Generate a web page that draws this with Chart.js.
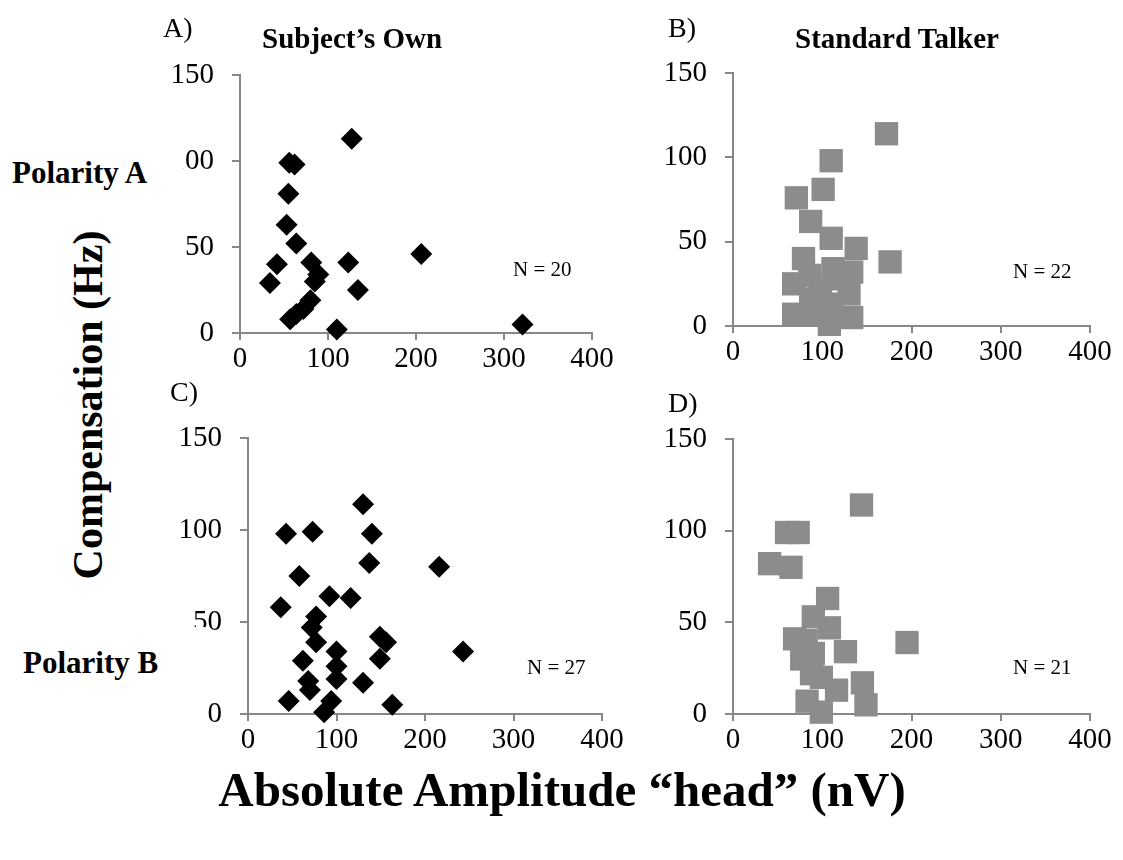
<!DOCTYPE html>
<html>
<head>
<meta charset="utf-8">
<script src="https://cdn.jsdelivr.net/npm/chart.js@4.4.0/dist/chart.umd.min.js"></script>
<style>
  html, body { margin: 0; padding: 0; background: #fff; }
  #page { position: relative; width: 1123px; height: 860px; overflow: hidden;
          font-family: "Liberation Serif", "Times New Roman", serif; color: #000; }
  #page canvas { position: absolute; z-index: 1; }
  .lbl { position: absolute; white-space: nowrap; line-height: 1; z-index: 2; }
  .b { font-weight: bold; }
  .box { background: #fff; }
</style>
</head>
<body>
<div id="page">
  <canvas id="chartA"></canvas>
  <canvas id="chartB"></canvas>
  <canvas id="chartC"></canvas>
  <canvas id="chartD"></canvas>

  <div class="lbl" style="left:163px; top:14px; font-size:28px;">A)</div>
  <div class="lbl b" style="left:262px; top:24px; font-size:29px;">Subject’s Own</div>
  <div class="lbl" style="left:668px; top:14px; font-size:28px;">B)</div>
  <div class="lbl b" style="left:795px; top:24px; font-size:29px;">Standard Talker</div>
  <div class="lbl" style="left:170px; top:378px; font-size:28px;">C)</div>
  <div class="lbl" style="left:668px; top:389px; font-size:28px;">D)</div>

  <div class="lbl b box" style="left:0; top:149px; padding:8px 36px 10px 12px; font-size:31px;">Polarity A</div>
  <div class="lbl b box" style="left:0; top:627px; padding:20px 47px 10px 23px; font-size:31px;">Polarity B</div>

  <div class="lbl" style="left:513px; top:259px; font-size:21px;">N = 20</div>
  <div class="lbl" style="left:1013px; top:261px; font-size:21px;">N = 22</div>
  <div class="lbl" style="left:527px; top:657px; font-size:21px;">N = 27</div>
  <div class="lbl" style="left:1013px; top:657px; font-size:21px;">N = 21</div>

  <div class="lbl b" style="left:88px; top:405px; font-size:42px; transform:translate(-50%,-50%) rotate(-90deg);">Compensation (Hz)</div>
  <div class="lbl b" style="left:562px; top:789px; font-size:49px; transform:translate(-50%,-50%);">Absolute Amplitude “head” (nV)</div>
</div>

<script>
// axis ticks shared by all four panels
const xTicks = [0, 100, 200, 300, 400];
const yTicks = [0, 50, 100, 150];

// A) polarity A, subject's own voice
const ownA_amp  = [127, 56, 62, 55, 53, 64, 206, 42, 34, 81, 89, 85, 123, 134, 57, 64, 72, 80, 110, 321];
const ownA_comp = [113, 99, 98, 81, 63, 52, 46, 40, 29, 41, 34, 30, 41, 25, 8, 11, 14, 19, 2, 5];

// B) polarity A, standard talker
const stdA_amp  = [172, 110, 101, 71, 87, 110, 138, 176, 79, 112, 133, 68, 86, 130, 68, 87, 108, 133, 88, 110, 98, 120];
const stdA_comp = [114, 98, 81, 76, 62, 52, 46, 38, 40, 34, 32, 25, 30, 19, 7, 16, 1, 5, 7, 13, 22, 28];

// C) polarity B, subject's own voice
const ownB_amp  = [130, 43, 73, 140, 137, 216, 58, 92, 116, 37, 77, 72, 77, 149, 156, 149, 243, 100, 100, 100, 62, 68, 70, 130, 46, 94, 86, 163];
const ownB_comp = [114, 98, 99, 98, 82, 80, 75, 64, 63, 58, 53, 47, 39, 42, 39, 30, 34, 34, 26, 19, 29, 18, 13, 17, 7, 7, 1, 5];

// D) polarity B, standard talker
const stdB_amp  = [144, 60, 73, 41, 65, 106, 90, 108, 69, 195, 126, 77, 90, 99, 116, 145, 149, 83, 99, 88, 82];
const stdB_comp = [114, 99, 99, 82, 80, 63, 53, 47, 41, 39, 34, 30, 33, 20, 13, 17, 5, 7, 1, 22, 40];

const AXIS = '#878787';
// y tick padding adds to the scale's top overflow, so the top pad has to cover label/2 + 18
const Y_AXIS_W = 90, X_AXIS_H = 55, PAD_TOP = 37, PAD_RIGHT = 30;
const tickFont = { family: 'Liberation Serif', size: 29 };

const diamond = { pointStyle: 'rectRot', pointRadius: 11, backgroundColor: '#000', borderColor: '#000', borderWidth: 0 };
const square  = { pointStyle: 'rect', pointRadius: 16.5, backgroundColor: '#8c8c8c', borderColor: '#8c8c8c', borderWidth: 0 };

function toPoints(xs, ys){
  return xs.map((x, i) => ({ x, y: ys[i] }));
}

// box = plot area edges in page pixels
function scatterPanel(id, box, xs, ys, marker){
  const cv = document.getElementById(id);
  const w = box.R - box.L + Y_AXIS_W + PAD_RIGHT;
  const h = box.B - box.T + PAD_TOP + X_AXIS_H;
  cv.width = w; cv.height = h;
  cv.style.width = w + 'px'; cv.style.height = h + 'px';
  cv.style.left = (box.L - Y_AXIS_W) + 'px';
  cv.style.top = (box.T - PAD_TOP) + 'px';

  return new Chart(cv, {
    type: 'scatter',
    data: { datasets: [{ data: toPoints(xs, ys), clip: false, ...marker, pointHoverRadius: marker.pointRadius }] },
    options: {
      responsive: false, animation: false, devicePixelRatio: 1,
      layout: { padding: { top: PAD_TOP, right: PAD_RIGHT, left: 0, bottom: 0 } },
      plugins: { legend: { display: false }, tooltip: { enabled: false } },
      events: [],
      scales: {
        x: {
          type: 'linear', min: xTicks[0], max: xTicks[xTicks.length - 1],
          afterBuildTicks: s => { s.ticks = xTicks.map(v => ({ value: v })); },
          afterFit: s => { s.height = X_AXIS_H; },
          border: { color: AXIS, width: 2 },
          grid: { drawOnChartArea: false, color: AXIS, lineWidth: 2, tickLength: 7 },
          ticks: { color: '#000', font: tickFont, padding: 2, maxRotation: 0, autoSkip: false }
        },
        y: {
          type: 'linear', min: yTicks[0], max: yTicks[yTicks.length - 1],
          afterBuildTicks: s => { s.ticks = yTicks.map(v => ({ value: v })); },
          afterFit: s => { s.width = Y_AXIS_W; },
          border: { color: AXIS, width: 2 },
          grid: { drawOnChartArea: false, color: AXIS, lineWidth: 2, tickLength: 8 },
          ticks: { color: '#000', font: tickFont, padding: 18, autoSkip: false }
        }
      }
    }
  });
}

scatterPanel('chartA', { L: 240, R: 592, T: 75, B: 333 }, ownA_amp, ownA_comp, diamond);
scatterPanel('chartB', { L: 733, R: 1090, T: 73, B: 326 }, stdA_amp, stdA_comp, square);
scatterPanel('chartC', { L: 248, R: 602, T: 438, B: 714 }, ownB_amp, ownB_comp, diamond);
scatterPanel('chartD', { L: 733, R: 1090, T: 439, B: 714 }, stdB_amp, stdB_comp, square);
</script>
</body>
</html>
